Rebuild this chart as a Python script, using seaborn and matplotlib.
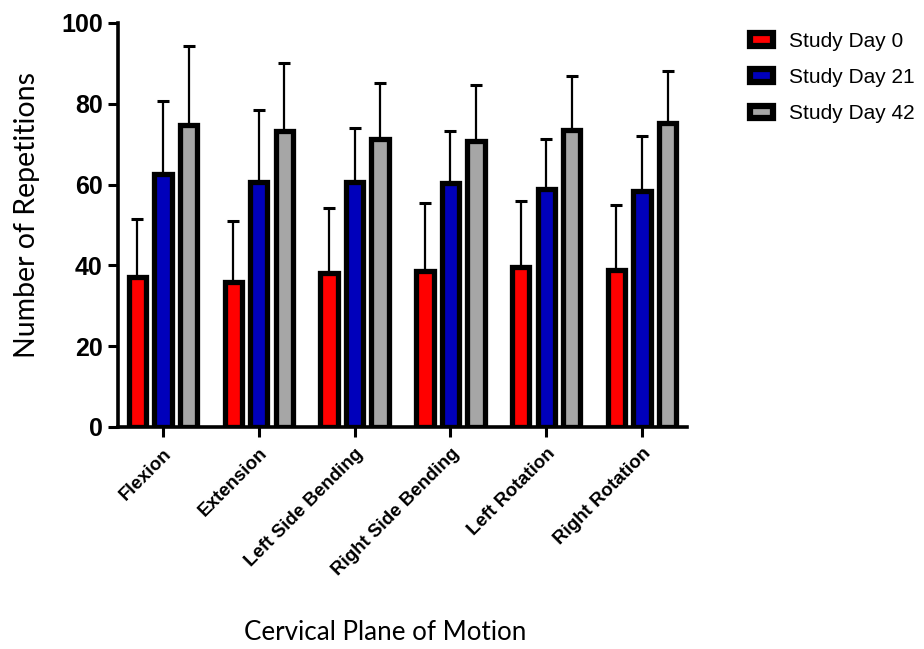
import matplotlib
matplotlib.use("Agg")
import matplotlib.pyplot as plt
import seaborn as sns
import pandas as pd
import numpy as np
from matplotlib.patches import Patch

categories = ["Flexion", "Extension", "Left Side Bending", "Right Side Bending",
              "Left Rotation", "Right Rotation"]
series_names = ["Study Day 0", "Study Day 21", "Study Day 42"]
day0 = [37.2, 35.8, 38.0, 38.6, 39.7, 38.8]
day21 = [62.6, 60.6, 60.6, 60.3, 58.8, 58.4]
day42 = [74.8, 73.3, 71.3, 70.9, 73.5, 75.2]
day0_err = [14.3, 15.2, 16.1, 16.8, 16.3, 16.2]
day21_err = [18.1, 17.9, 13.4, 13.0, 12.5, 13.6]
day42_err = [19.6, 16.8, 13.8, 13.8, 13.4, 13.0]
colors = ["#ff0000", "#0000bb", "#a6a6a6"]

means = [day0, day21, day42]
errs = [day0_err, day21_err, day42_err]
df = pd.DataFrame({
    "cat": np.repeat([categories], 3, axis=0).ravel(),
    "series": np.repeat(series_names, len(categories)),
    "val": np.concatenate(means),
    "err": np.concatenate(errs),
})

sns.set_style("white")
fig = plt.figure(figsize=(9.24, 6.49), dpi=100)
ax = fig.add_axes([118/924, 1-427/649, (687-118)/924, (427-23)/649])

sns.barplot(data=df, x="cat", y="val", hue="series", order=categories,
            hue_order=series_names, palette=colors, errorbar=None,
            width=0.8, gap=0.32, edgecolor="black", linewidth=3.8,
            legend=False, ax=ax, saturation=1)

# error bars (upper only)
for container, s_err in zip(ax.containers, errs):
    for patch, e in zip(container.patches, s_err):
        xc = patch.get_x() + patch.get_width() / 2
        h = patch.get_height()
        ax.errorbar(xc, h, yerr=[[0], [e]], fmt="none", ecolor="black",
                    elinewidth=1.6, capsize=4, capthick=2.2, zorder=1)
for p in ax.patches:
    p.set_zorder(3)

ax.set_ylim(0, 100)
ax.set_xlim(-0.47, 5.47)
ax.set_yticks([0, 20, 40, 60, 80, 100])
ax.set_yticklabels(["0", "20", "40", "60", "80", "100"],
                   fontfamily="Liberation Sans", fontweight="bold", fontsize=18,
                   color="black")
ax.set_xticks(range(len(categories)))
ax.set_xticklabels(categories, rotation=45, ha="right", rotation_mode="anchor",
                   fontfamily="Liberation Sans", fontweight="bold", fontsize=13.5,
                   color="black")
ax.tick_params(axis="both", direction="out", length=7, width=2.2, color="black",
               bottom=True, left=True, pad=4)
ax.tick_params(axis="x", pad=6)
for side in ["top", "right"]:
    ax.spines[side].set_visible(False)
for side in ["left", "bottom"]:
    ax.spines[side].set_linewidth(2.6)
    ax.spines[side].set_color("black")
ax.set_xlabel("")
ax.set_ylabel("")

fig.text(27/924, 1-215/649, "Number of Repetitions", rotation=90,
         ha="center", va="center", fontfamily="Lato", fontsize=20.5, color="black")
fig.text(385/924, 1-633/649, "Cervical Plane of Motion",
         ha="center", va="center", fontfamily="Lato", fontsize=18.7, color="black")

handles = [Patch(facecolor=c, edgecolor="black", linewidth=4.5) for c in colors]
leg = fig.legend(handles, series_names, loc="upper left",
                 bbox_to_anchor=(750/924, 1-32/649), frameon=False,
                 prop={"family": "Liberation Sans", "size": 15},
                 handlelength=1.1, handleheight=0.55, labelspacing=0.82,
                 handletextpad=0.75, borderaxespad=0, borderpad=0)
for t in leg.get_texts():
    t.set_color("black")

fig.savefig("out.png", dpi=100)
